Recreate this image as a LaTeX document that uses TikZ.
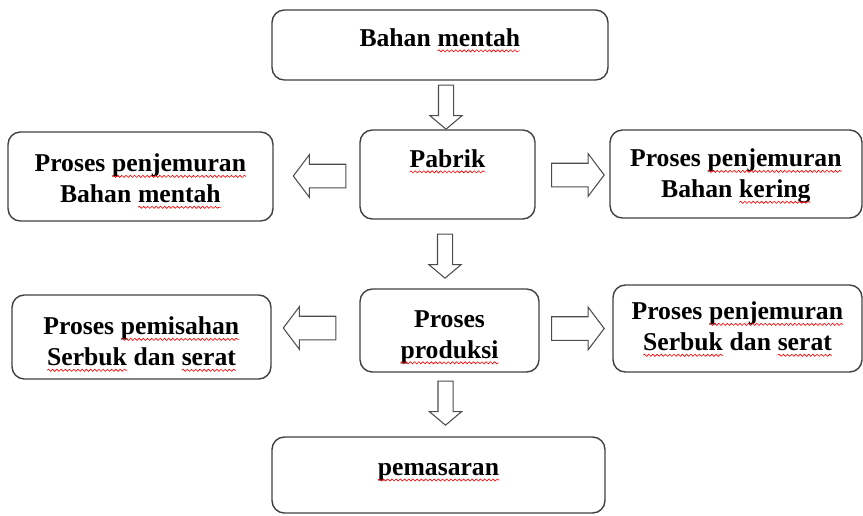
\documentclass[tikz,border=0pt]{standalone}
\usepackage{fontspec}
\setmainfont{Liberation Serif}
\usepackage{xcolor}
\usepackage{tikz}
\usetikzlibrary{calc,positioning,shapes.arrows,decorations.pathmorphing}

% kata bergaris merah
\newcommand{\salah}[1]{\tikz[baseline=(w.base)]{\node[draw=none, fill=none, shape=rectangle, inner sep=0pt, outer sep=0pt, minimum size=0pt] (w) {#1};
	\draw[red, line width=0.35pt, rounded corners=0pt, decorate, decoration={snake, amplitude=0.6pt, segment length=2.4pt}] ([yshift=-2.6pt]w.base west) -- ([yshift=-2.6pt]w.base east);}}

\tikzset{
	tulisan/.style={font=\fontsize{14.6}{17.6}\selectfont\bfseries, align=center, inner sep=0pt},
	kotak/.style={draw=black!75, line width=0.8pt, rounded corners=7pt},
	panahbawah/.style={single arrow, draw=black!70, line width=0.6pt, inner sep=0.14cm, single arrow head indent=0pt,
		minimum height=0.88cm, minimum width=0.62cm, single arrow head extend=0.17cm, single arrow tip angle=100, shape border rotate=270},
	panahkanan/.style={single arrow, draw=black!70, line width=0.6pt, inner sep=0.225cm, single arrow head indent=0pt,
		minimum height=1.05cm, minimum width=0.84cm, single arrow head extend=0.19cm, single arrow tip angle=106}
}

\begin{document}
\begin{tikzpicture}[x=0.02cm,y=-0.02cm]
	\useasboundingbox (0,0) rectangle (863,515);
	% kotak
	\node[kotak, minimum width=6.72cm, minimum height=1.4cm] (bahan) at (440,45) {};
		\node[tulisan] (tbahan) at ($(bahan.north)+(0,31)$) {Bahan \salah{mentah}};
	\node[kotak, minimum width=3.5cm, minimum height=1.78cm] (pabrik) at (447.5,174.5) {};
		\node[tulisan] (tpabrik) at ($(pabrik.north)+(0,32)$) {\salah{Pabrik}};
	\node[kotak, minimum width=5.3cm, minimum height=1.78cm] (jemurmentah) at (140.5,176.5) {};
		\node[tulisan] (tjemurmentah) at ($(jemurmentah.north)+(0,50)$) {Proses \salah{penjemuran}\\Bahan \salah{mentah}};
	\node[kotak, minimum width=5.04cm, minimum height=1.76cm] (jemurkering) at (736,174) {};
		\node[tulisan] (tjemurkering) at ($(jemurkering.north)+(0,47)$) {Proses \salah{penjemuran}\\Bahan \salah{kering}};
	\node[kotak, minimum width=3.58cm, minimum height=1.66cm] (produksi) at (449.5,330.5) {};
		\node[tulisan] (tproduksi) at ($(produksi.north)+(0,49)$) {Proses\\\salah{produksi}};
	\node[kotak, minimum width=5.18cm, minimum height=1.68cm] (pisah) at (141.5,337) {};
		\node[tulisan] (tpisah) at ($(pisah.north)+(0,50)$) {Proses \salah{pemisahan}\\\salah{Serbuk} dan \salah{serat}};
	\node[kotak, minimum width=4.98cm, minimum height=1.74cm] (jemurserbuk) at (737.5,328.5) {};
		\node[tulisan] (tjemurserbuk) at ($(jemurserbuk.north)+(0,45)$) {Proses \salah{penjemuran}\\\salah{Serbuk} dan \salah{serat}};
	\node[kotak, minimum width=6.66cm, minimum height=1.52cm] (pasar) at (438.5,475) {};
		\node[tulisan] (tpasar) at ($(pasar.north)+(0,36)$) {\salah{pemasaran}};
	% panah
	\node[panahbawah] (p1) at (446,104) {};
	\node[panahkanan, shape border rotate=180] (p2) at (324,176) {};
	\node[panahkanan] (p3) at (573.5,175) {};
	\node[panahbawah] (p4) at (445,253) {};
	\node[panahkanan, shape border rotate=180] (p5) at (314,328) {};
	\node[panahkanan] (p6) at (573.5,328.5) {};
	\node[panahbawah] (p7) at (445.5,400) {};
\end{tikzpicture}
\end{document}
